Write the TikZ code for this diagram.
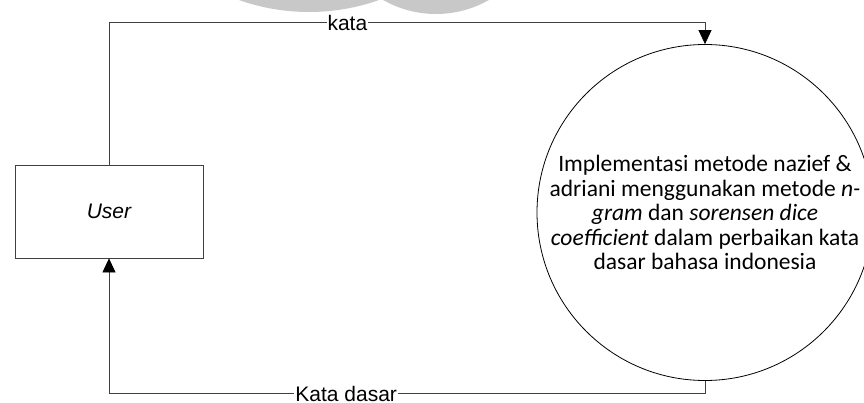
\documentclass[tikz,border=0pt]{standalone}
\usepackage{fontspec}
\setmainfont{Liberation Sans}
\newfontfamily\procfont{Carlito}
\usetikzlibrary{positioning,arrows.meta,shapes}
\definecolor{wmark}{RGB}{200,200,200}

\begin{document}
\begin{tikzpicture}[x=1pt, y=-1pt,
	entity/.style={rectangle, draw=black!75, line width=0.8pt, minimum width=188pt, minimum height=93pt, font=\fontsize{21}{25}\selectfont\itshape},
	process/.style={circle, draw=black, line width=0.8pt, minimum size=336pt, inner sep=0pt, align=center, font=\procfont\fontsize{23.5}{24.5}\selectfont},
	flow/.style={draw=black!75, line width=0.8pt, -{Triangle[length=14pt,width=13pt,color=black]}},
	flowlabel/.style={fill=white, inner sep=1pt, font=\fontsize{21}{25}\selectfont}]

	\useasboundingbox (0,0) rectangle (864,403);

	\fill[wmark] (309,-198) circle (210);
	\fill[wmark] (436,-93) circle (107);

	\node (user) [entity] at (109,211.5) {User};
	\node (proc) [process] at (705,212.5) {Implementasi metode nazief \&\\
		adriani menggunakan metode \textit{n-}\\
		\textit{gram} dan \textit{sorensen dice}\\
		\textit{coefficient} dalam perbaikan kata\\
		dasar bahasa indonesia};

	\coordinate (kataL) at (109,22.7);
	\coordinate (kataR) at (705,22.7);
	\coordinate (dasarR) at (705,393.5);
	\coordinate (dasarL) at (109,393.5);

	\draw[flow] (user.north) -- (kataL) -- node[flowlabel, pos=0.40] {kata} (kataR) -- (proc.north);
	\draw[flow] (proc.south) -- (dasarR) -- node[flowlabel, pos=0.602] {Kata dasar} (dasarL) -- (user.south);

\end{tikzpicture}
\end{document}
